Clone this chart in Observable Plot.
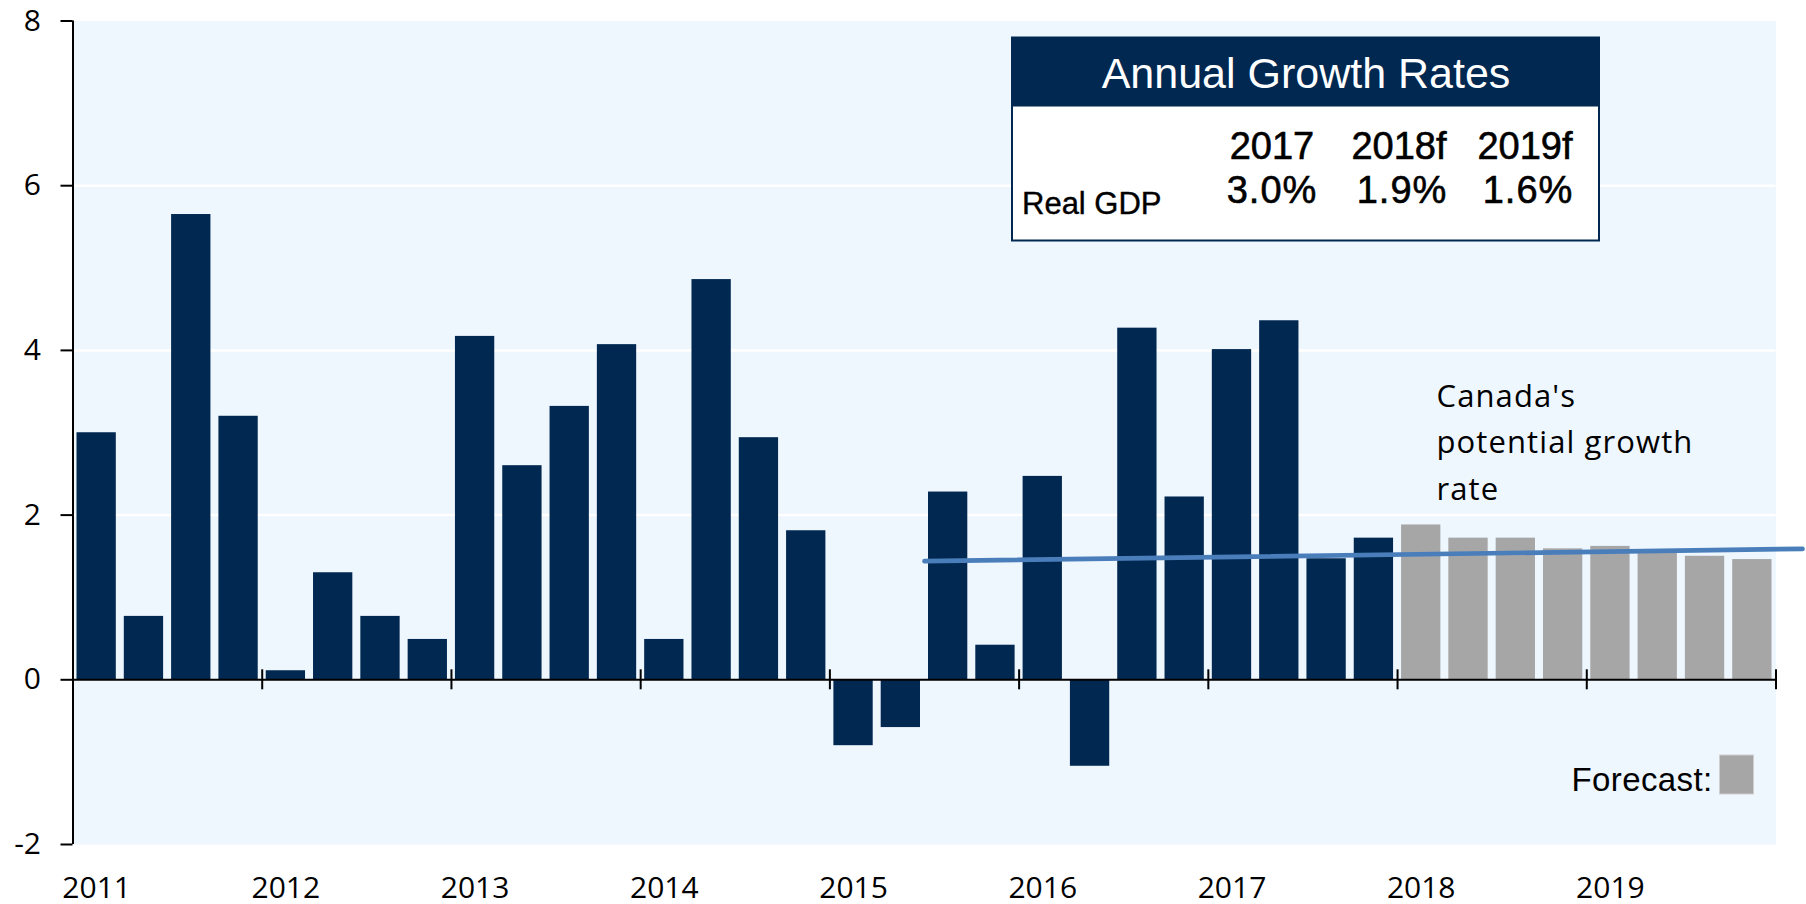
<!DOCTYPE html>
<html>
<head>
<meta charset="utf-8">
<script src="https://cdn.jsdelivr.net/npm/d3@7"></script>
<script src="https://cdn.jsdelivr.net/npm/@observablehq/plot@0.6"></script>
<style>
  html, body { margin: 0; padding: 0; background: #ffffff; }
  #chart { position: relative; width: 1806px; height: 904px; }
</style>
</head>
<body>
<div id="chart"></div>
<script>
// ---- data ----
const quarters = [
  "2011Q1","2011Q2","2011Q3","2011Q4",
  "2012Q1","2012Q2","2012Q3","2012Q4",
  "2013Q1","2013Q2","2013Q3","2013Q4",
  "2014Q1","2014Q2","2014Q3","2014Q4",
  "2015Q1","2015Q2","2015Q3","2015Q4",
  "2016Q1","2016Q2","2016Q3","2016Q4",
  "2017Q1","2017Q2","2017Q3","2017Q4",
  "2018Q1","2018Q2","2018Q3","2018Q4",
  "2019Q1","2019Q2","2019Q3","2019Q4"
];
const gdpGrowth = [
  3.00, 0.77, 5.65, 3.20,
  0.11, 1.30, 0.77, 0.49,
  4.17, 2.60, 3.32, 4.07,
  0.49, 4.86, 2.94, 1.81,
  -0.80, -0.58, 2.28, 0.42,
  2.47, -1.05, 4.27, 2.22,
  4.01, 4.36, 1.47, 1.72,
  1.88, 1.72, 1.72, 1.59,
  1.62, 1.56, 1.50, 1.46
];
const firstForecast = "2018Q1";
const potentialTime = [2015.5, 2020.14];   // decimal years
const potentialRate = [1.44, 1.59];
const yearLabels = [2011, 2012, 2013, 2014, 2015, 2016, 2017, 2018, 2019];
const yTicks = [-2, 0, 2, 4, 6, 8];
const gridValues = [2, 4, 6];
const tableYears = ["2017", "2018f", "2019f"];
const tableRates = ["3.0%", "1.9%", "1.6%"];
const tableTitle = "Annual Growth Rates";
const tableRowLabel = "Real GDP";
const noteLines = ["Canada's", "potential growth", "rate"];
const legendLabel = "Forecast:";

// ---- styles ----
const NAVY = "#012851";
const GRAY = "#a6a6a6";
const BG = "#eef6fe";
const LINE = "#4a7ebb";

// ---- derived tables ----
const qStart = q => +q.slice(0, 4) + (+q.slice(5) - 1) / 4;
const bars = quarters.map((q, i) => ({
  q, start: qStart(q), end: qStart(q) + 0.25, value: gdpGrowth[i],
  forecast: q >= firstForecast
}));
const potential = potentialTime.map((t, i) => ({t, v: potentialRate[i]}));
const yearBoundaries = yearLabels.slice(1).concat([yearLabels[yearLabels.length - 1] + 1]);
const labelPositions = yearLabels.map(y => y + 0.125); // centre of first quarter

const W = 1806, H = 904;
const plot = Plot.plot({
  width: W,
  height: H,
  marginLeft: 72.5,
  marginRight: 30.5,
  marginTop: 20.5,
  marginBottom: 60,
  style: {fontFamily: "'Open Sans', sans-serif", fontSize: "30px", color: "#000", background: "transparent", overflow: "visible"},
  x: {
    type: "linear",
    domain: [yearLabels[0], yearLabels[yearLabels.length - 1] + 1],
    ticks: labelPositions,
    tickFormat: d => String(Math.floor(d)),
    tickSize: 0,
    tickPadding: 32,
    label: null
  },
  y: {
    domain: [-2, 8],
    ticks: yTicks,
    tickFormat: d => String(d),
    tickSize: 12,
    tickPadding: 20,
    label: null
  },
  marks: [
    Plot.frame({fill: BG, stroke: "none"}),
    Plot.ruleY(gridValues, {stroke: "#ffffff", strokeWidth: 2.5}),
    Plot.rectY(bars, {
      x1: "start", x2: "end", y1: 0, y2: "value",
      fill: d => d.forecast ? GRAY : NAVY,
      insetLeft: 4, insetRight: 4
    }),
    Plot.ruleY([0], {stroke: "#000", strokeWidth: 2}),
    Plot.ruleX([yearLabels[0]], {stroke: "#000", strokeWidth: 2}),
    Plot.ruleX(yearBoundaries, {y1: 0, y2: 0, insetTop: 10, insetBottom: 10, stroke: "#000", strokeWidth: 2}),
    Plot.line(potential, {x: "t", y: "v", stroke: LINE, strokeWidth: 4.7})
  ]
});
document.getElementById("chart").appendChild(plot);

const svg = d3.select(plot);
svg.selectAll('[aria-label="y-axis tick"]').attr("stroke-width", 2);

// ---- annotation: growth table ----
const box = svg.append("g")
  .attr("font-family", "'Liberation Sans', Arial, sans-serif")
  .attr("text-anchor", "start");
box.append("rect").attr("x", 1012).attr("y", 37.5).attr("width", 587).attr("height", 203)
  .attr("fill", "#fff").attr("stroke", NAVY).attr("stroke-width", 2);
box.append("rect").attr("x", 1012).attr("y", 37.5).attr("width", 587).attr("height", 69)
  .attr("fill", NAVY);
box.append("text").attr("x", 1306).attr("y", 88).attr("text-anchor", "middle")
  .attr("font-size", 43).attr("fill", "#fff").text(tableTitle);
const colCentres = [1272, 1399, 1525];
tableYears.forEach((t, i) => {
  box.append("text").attr("x", colCentres[i]).attr("y", 159.3).attr("text-anchor", "middle")
    .attr("font-size", 38).attr("fill", "#000").attr("stroke", "#000").attr("stroke-width", 0.6).text(t);
});
tableRates.forEach((t, i) => {
  box.append("text").attr("x", colCentres[i] + (i ? 3 : 0)).attr("y", 202.7).attr("text-anchor", "middle")
    .attr("font-size", 38).attr("letter-spacing", 1).attr("fill", "#000")
    .attr("stroke", "#000").attr("stroke-width", 0.6).text(t);
});
box.append("text").attr("x", 1022).attr("y", 214).attr("text-anchor", "start")
  .attr("font-size", 31).attr("fill", "#000").attr("stroke", "#000").attr("stroke-width", 0.4).text(tableRowLabel);

// ---- annotation: potential growth note ----
const note = svg.append("text").attr("font-family", "'Open Sans', sans-serif").attr("font-size", 31)
  .attr("text-anchor", "start").attr("letter-spacing", 1.1).attr("fill", "#000");
noteLines.forEach((s, i) => {
  note.append("tspan").attr("x", 1436.5).attr("y", 406.7 + i * 46.7).text(s);
});

// ---- legend ----
svg.append("text").attr("x", 1571.5).attr("y", 790.7).attr("text-anchor", "start")
  .attr("font-family", "'Liberation Sans', Arial, sans-serif")
  .attr("font-size", 33).attr("letter-spacing", 0.4).attr("fill", "#000").text(legendLabel);
svg.append("rect").attr("x", 1719.5).attr("y", 755).attr("width", 34).attr("height", 39)
  .attr("fill", GRAY).attr("stroke", "#cfcfcf").attr("stroke-width", 1);
</script>
</body>
</html>
